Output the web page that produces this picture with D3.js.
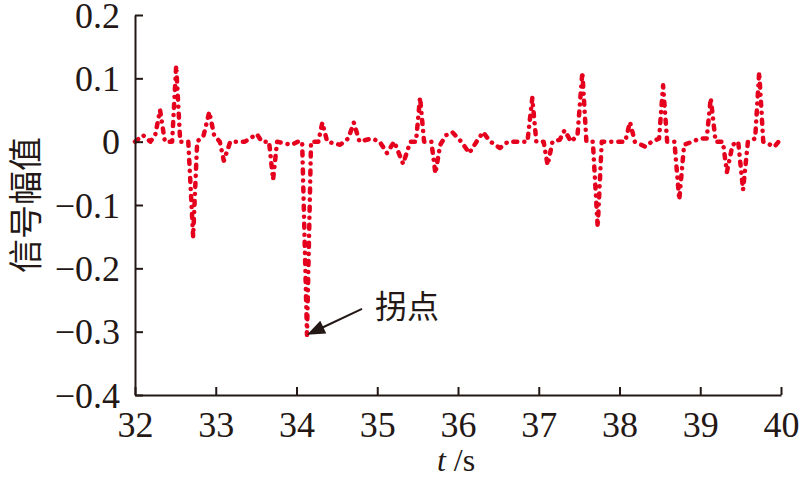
<!DOCTYPE html>
<html><head><meta charset="utf-8">
<script src="https://cdn.jsdelivr.net/npm/d3@7"></script>
<style>body{margin:0;background:#fff;}svg{display:block;}</style>
</head><body>
<svg id="c" width="800" height="479"></svg>
<script>
const times = [32.00,32.10,32.19,32.25,32.31,32.37,32.46,32.51,32.56,32.66,32.72,32.77,32.85,32.92,32.98,33.05,33.10,33.18,33.36,33.51,33.57,33.66,33.71,33.76,33.94,34.02,34.07,34.13,34.18,34.27,34.32,34.38,34.54,34.64,34.71,34.78,34.93,35.03,35.12,35.21,35.32,35.41,35.48,35.53,35.58,35.67,35.72,35.78,35.85,35.93,36.04,36.14,36.23,36.31,36.40,36.52,36.62,36.86,36.92,36.97,37.06,37.11,37.17,37.26,37.32,37.40,37.48,37.54,37.59,37.67,37.73,37.78,38.07,38.13,38.19,38.32,38.40,38.49,38.54,38.59,38.68,38.74,38.80,38.90,39.00,39.08,39.13,39.19,39.28,39.33,39.40,39.47,39.53,39.59,39.68,39.73,39.78,39.92,40.00];
const signal = [0,0.01,0,0.01,0.05,0,0,0.12,0,0,-0.15,0,0.01,0.047,0.01,0,-0.03,0,0,0.012,0,0,-0.06,0,-0.005,0,0,-0.305,0,0,0.03,0,-0.005,0.005,0.03,0,0.005,0,-0.018,0,-0.035,0,0,0.07,0,0,-0.05,-0.005,0.01,0.015,0,-0.018,0,0.015,0,-0.01,0,0,0.069,0,0,-0.037,0,0.003,0.018,0,0.01,0.11,0,0,-0.135,0,0,0.031,0,-0.008,0,0.005,0.089,0,0,-0.092,-0.005,0,0.005,0.005,0.069,0,0,-0.048,-0.005,0,-0.076,0,0.005,0.11,0,-0.008,0.005];
const xTicks = [32,33,34,35,36,37,38,39,40];
const yTicks = [0.2,0.1,0,-0.1,-0.2,-0.3,-0.4];
const yTickLabels = ["0.2","0.1","0","\u22120.1","\u22120.2","\u22120.3","\u22120.4"];
const yTitle = "信号幅值";
const annotation = {text:"拐点", t:34.13, v:-0.305};

const svg = d3.select("#c");
const x = d3.scaleLinear().domain([32,40]).range([135,781]);
const y = d3.scaleLinear().domain([-0.4,0.2]).range([395,15]);
const axisColor = "#231815";
const serif = '"Liberation Serif","Times New Roman",serif';

// line
const line = d3.line().x((d,i)=>x(times[i])).y(d=>y(d));
svg.append("path").datum(signal).attr("d", line)
  .attr("fill","none").attr("stroke","#e5001e").attr("stroke-width",4.5)
  .attr("stroke-linecap","round").attr("stroke-linejoin","round")
  .attr("stroke-dasharray","4,7,0.1,7");

// axes
const gx = svg.append("g").attr("transform","translate(0,395)")
  .call(d3.axisBottom(x).tickValues(xTicks).tickSizeInner(-8).tickSizeOuter(0).tickPadding(16).tickFormat(d3.format("d")));
const gy = svg.append("g").attr("transform","translate(135,0)")
  .call(d3.axisLeft(y).tickValues(yTicks).tickSizeInner(-8).tickSizeOuter(0).tickPadding(15).tickFormat((d,i)=>yTickLabels[i]));
[gx,gy].forEach(g=>{
  g.attr("font-family",null).attr("font-size",null);
  g.select(".domain").attr("stroke",axisColor).attr("stroke-width",2);
  g.selectAll(".tick line").attr("stroke",axisColor).attr("stroke-width",2);
  g.selectAll(".tick text").style("font-family",serif).style("font-size","36px").attr("fill",axisColor);
});
gy.selectAll(".tick text").attr("dy","0.34em");

// axis titles
const xt = svg.append("text").attr("x",456).attr("y",471).attr("text-anchor","middle")
  .style("font-family",serif).style("font-size","32px").attr("fill",axisColor);
xt.append("tspan").attr("font-style","italic").text("t");
xt.append("tspan").text(" /s");

svg.append("text").attr("transform","translate(38,205) rotate(-90)").attr("text-anchor","middle")
  .style("font-family","'Noto Sans CJK SC',sans-serif").style("font-size","34px").attr("fill",axisColor).text(yTitle);

// annotation
const ax = x(annotation.t), ay = y(annotation.v);
const sx = ax+55, sy = ay-26;
const ang = Math.atan2(ay-sy, ax-sx);
const hl = 18, hw = 7;
svg.append("line").attr("x1",sx).attr("y1",sy).attr("x2",ax+Math.cos(ang)*(-hl+2)).attr("y2",ay+Math.sin(ang)*(-hl+2))
  .attr("stroke",axisColor).attr("stroke-width",2);
const bx = ax - Math.cos(ang)*hl, by = ay - Math.sin(ang)*hl;
svg.append("path").attr("d",`M${ax},${ay}L${bx - Math.sin(ang)*hw},${by + Math.cos(ang)*hw}L${bx + Math.sin(ang)*hw},${by - Math.cos(ang)*hw}Z`)
  .attr("fill",axisColor);
svg.append("text").attr("x",375).attr("y",318).style("font-family","'Noto Sans CJK SC',sans-serif")
  .style("font-size","32px").attr("fill",axisColor).text(annotation.text);
</script>
</body></html>
